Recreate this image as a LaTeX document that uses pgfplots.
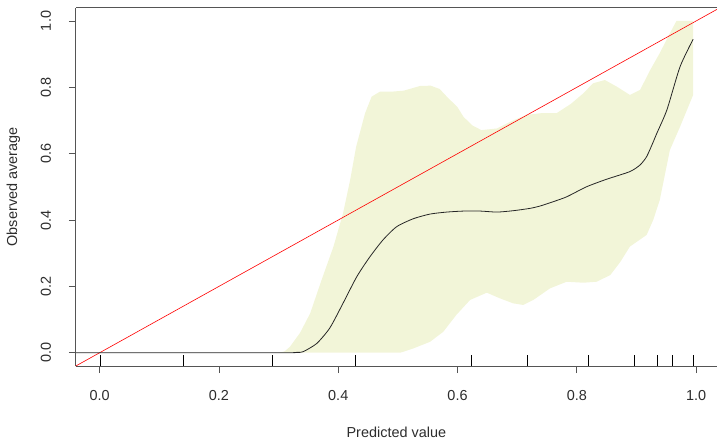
\documentclass[border=0pt]{standalone}
\usepackage{fontspec}
\setmainfont{Liberation Sans}
\usepackage{pgfplots}
\pgfplotsset{compat=1.18}
\definecolor{bandfill}{RGB}{242,245,216}
\definecolor{boxgray}{RGB}{85,85,85}
\definecolor{txt}{RGB}{45,45,45}
\begin{document}
\begin{tikzpicture}
\begin{axis}[
  scale only axis,
  width=641.2bp, height=358.3bp,
  xmin=-0.04, xmax=1.035,
  ymin=-0.04, ymax=1.04,
  axis x line*=box, axis y line*=left,
  axis line style={boxgray, line width=0.8bp},
  xtick={0,0.2,0.4,0.6,0.8,1.0},
  ytick={0,0.2,0.4,0.6,0.8,1.0},
  xtick pos=bottom, ytick pos=left,
  tick align=outside,
  major tick length=7bp,
  tick style={boxgray, line width=0.8bp},
  /pgf/number format/assume math mode=true,
  /pgf/number format/.cd, fixed, fixed zerofill, precision=1, /pgfplots/.cd,
  every tick label/.append style={font=\fontsize{14.5}{17}\selectfont, text=txt},
  xticklabel style={anchor=center, yshift=-23bp},
  yticklabel style={xshift=-23bp, rotate=90, anchor=center},
  xlabel={Predicted value},
  ylabel={Observed average},
  label style={font=\fontsize{14.5}{17}\selectfont, text=txt},
  xlabel style={at={(axis description cs:0.5,0)}, anchor=center, yshift=-66bp},
  ylabel style={at={(axis description cs:0,0.5)}, anchor=center, yshift=62.5bp},
]
% confidence band
\addplot[fill=bandfill, draw=none] coordinates {
(0.300,0.000) (0.310,0.004) (0.319,0.018) (0.336,0.060) (0.353,0.119)
(0.372,0.219) (0.392,0.320) (0.408,0.420) (0.420,0.521) (0.430,0.621)
(0.445,0.722) (0.456,0.772) (0.470,0.787) (0.490,0.787) (0.510,0.790)
(0.537,0.804) (0.555,0.805) (0.570,0.795) (0.582,0.772) (0.600,0.740)
(0.610,0.711) (0.625,0.685) (0.640,0.671) (0.666,0.676) (0.693,0.700)
(0.716,0.717) (0.740,0.722) (0.766,0.722) (0.790,0.750) (0.811,0.782)
(0.827,0.812) (0.847,0.822) (0.867,0.802) (0.889,0.777) (0.906,0.792)
(0.923,0.852) (0.939,0.903) (0.956,0.963) (0.967,1.000) (0.995,1.000)
(0.995,0.777) (0.973,0.681) (0.956,0.611) (0.939,0.460) (0.928,0.400)
(0.917,0.355) (0.889,0.320) (0.873,0.274) (0.856,0.234) (0.833,0.214)
(0.811,0.211) (0.783,0.214) (0.755,0.194) (0.727,0.159) (0.710,0.144)
(0.693,0.149) (0.671,0.164) (0.649,0.181) (0.621,0.159) (0.598,0.114)
(0.576,0.063) (0.554,0.033) (0.526,0.013) (0.504,0.000) (0.300,0.000)
} -- cycle;
% identity line
\addplot[red, line width=0.6bp] coordinates {(-0.04,-0.04) (1.04,1.04)};
% calibration curve
\addplot[black!85, line width=0.8bp, smooth, tension=0.4] coordinates {
(-0.04,0.000) (0.300,0.000) (0.330,0.001) (0.341,0.003) (0.364,0.028)
(0.386,0.075) (0.408,0.149) (0.431,0.229) (0.453,0.289) (0.475,0.340)
(0.498,0.380) (0.526,0.404) (0.554,0.418) (0.582,0.424) (0.610,0.427)
(0.638,0.427) (0.666,0.424) (0.693,0.428) (0.721,0.435) (0.738,0.442)
(0.760,0.455) (0.783,0.470) (0.816,0.500) (0.850,0.523) (0.889,0.546)
(0.906,0.566) (0.917,0.591) (0.928,0.635) (0.934,0.661) (0.951,0.732)
(0.973,0.862) (0.995,0.945)
};
% rug
\addplot[only marks, mark=|, mark size=5.5bp, mark options={black, line width=0.8bp}] coordinates {
(0.002,-0.0235) (0.140,-0.0235) (0.290,-0.0235) (0.428,-0.0235)
(0.624,-0.0235) (0.717,-0.0235) (0.819,-0.0235) (0.896,-0.0235)
(0.935,-0.0235) (0.961,-0.0235) (0.995,-0.0235)
};
\end{axis}
\pgfresetboundingbox
\path (current axis.south west) ++(-75.8bp,-76bp) rectangle ++(717bp,442bp);
\end{tikzpicture}
\end{document}
